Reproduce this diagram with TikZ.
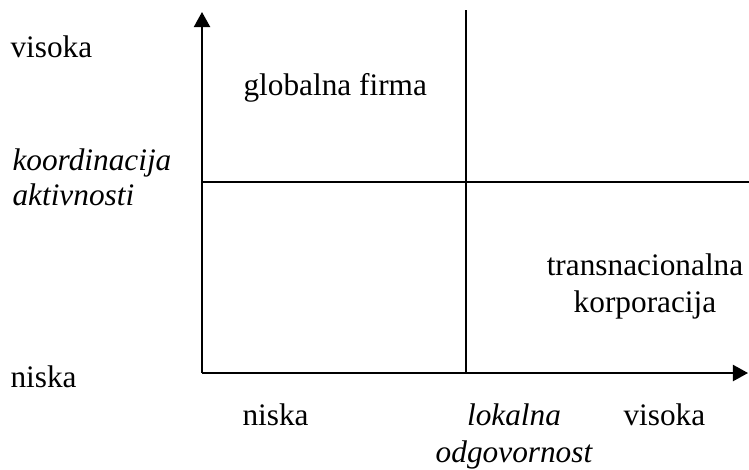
\documentclass[tikz,border=0pt]{standalone}
\usepackage{fontspec}
\setmainfont{Liberation Serif}
\usetikzlibrary{arrows.meta}
\begin{document}
\begin{tikzpicture}[x=0.3833pt,y=0.3833pt,font=\fontsize{12}{14}\selectfont]
    \tikzstyle{every node}+=[inner sep=0pt]
    \tikzstyle{axisarrow}=[black,line width=0.77pt,-{Triangle[length=5.8pt,width=6.2pt]}]
    \tikzstyle{quadline}=[black,line width=0.77pt]
    \tikzstyle{lab}=[anchor=base west]
    \tikzstyle{kat}=[anchor=base,font=\fontsize{12}{14}\selectfont\itshape]
    \useasboundingbox (0,0) rectangle (749,-469);
    \coordinate (O) at (202,-373);
    \coordinate (ytop) at (202,-12);
    \coordinate (xend) at (748,-373);
    \coordinate (midtop) at (466,-10);
    \coordinate (midbot) at (466,-373);
    \coordinate (midleft) at (202,-182);
    \coordinate (midright) at (749,-182);
    % osi
    \draw [axisarrow] (O) -- (ytop);
    \draw [axisarrow] (O) -- (xend);
    % podjela na kvadrante
    \draw [quadline] (midbot) -- (midtop);
    \draw [quadline] (midleft) -- (midright);
    % vertikalna os
    \node [lab] (yhigh) at (10,-57) {visoka};
    \node [lab,font=\fontsize{12}{14}\selectfont\itshape] (ylab1) at (12,-170) {koordinacija};
    \node [lab,font=\fontsize{12}{14}\selectfont\itshape] (ylab2) at (12,-205) {aktivnosti};
    \node [lab] (ylow) at (10,-387) {niska};
    % horizontalna os
    \node [lab] (xlow) at (242,-425) {niska};
    \node [kat] (xlab1) at (514,-425) {lokalna};
    \node [kat] (xlab2) at (514,-462) {odgovornost};
    \node [lab] (xhigh) at (623,-425) {visoka};
    % kvadranti
    \node [lab] (global) at (243,-95) {globalna firma};
    \node [anchor=base] (trans1) at (645,-275) {transnacionalna};
    \node [anchor=base] (trans2) at (645,-312) {korporacija};
\end{tikzpicture}
\end{document}
